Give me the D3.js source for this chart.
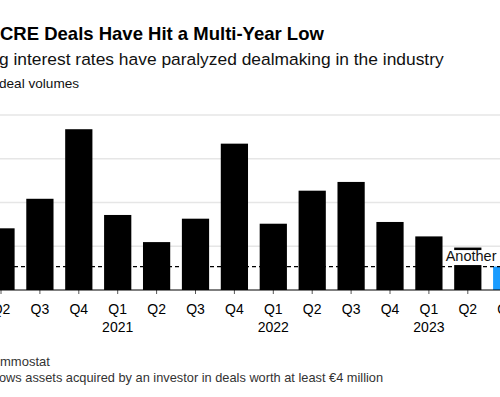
<!DOCTYPE html>
<html>
<head>
<meta charset="utf-8">
<script src="https://cdn.jsdelivr.net/npm/d3@7"></script>
<style>
  body { margin: 0; background: #fff; }
  svg { display: block; font-family: "Liberation Sans", Arial, sans-serif; }
</style>
</head>
<body>
<svg id="chart" width="500" height="397"></svg>
<script>
// ---> Data (quarterly deal volumes, billions of euros)
const quarters = ["Q2", "Q3", "Q4", "Q1", "Q2", "Q3", "Q4", "Q1", "Q2", "Q3", "Q4", "Q1", "Q2", "Q3"];
const years = ["", "", "", "2021", "", "", "", "2022", "", "", "", "2023", "", ""];
const volumes = [2.82, 4.17, 7.35, 3.43, 2.19, 3.26, 6.69, 3.03, 4.54, 4.94, 3.11, 2.45, 1.94, 1.07];
const yTicks = [0, 2, 4, 6, 8];
const latest = 1.07;

const svg = d3.select("#chart");
const keys = quarters.map((q, i) => i);

// bands: slot step ~38.9px, first slot centred at x=1 (chart is cropped on the left)
const step = 38.9;
const x = d3.scaleBand()
    .domain(keys)
    .range([1 - step / 2, 1 - step / 2 + step * keys.length])
    .paddingInner(0.3)
    .paddingOuter(0.15);

const y = d3.scaleLinear().domain([0, 8]).range([290, 115]);

// gridlines
svg.append("g")
    .selectAll("line")
    .data(yTicks.slice(1))
    .enter()
    .append("line")
    .attr("x1", 0)
    .attr("x2", 500)
    .attr("y1", d => y(d))
    .attr("y2", d => y(d))
    .style("stroke", "#e6e6e6")
    .style("stroke-width", 1.5);

// bars
svg.append("g")
    .selectAll("rect")
    .data(volumes)
    .enter()
    .append("rect")
    .attr("x", (d, i) => x(i))
    .attr("width", x.bandwidth())
    .attr("y", d => y(d))
    .attr("height", d => y(0) - y(d))
    .attr("fill", (d, i) => i === volumes.length - 1 ? "#1a9cff" : "#000");

// dashed line at the latest level
svg.append("line")
    .attr("x1", 0)
    .attr("x2", 500)
    .attr("y1", y(latest))
    .attr("y2", y(latest))
    .style("stroke", "#000")
    .style("stroke-width", 1.3)
    .style("stroke-dasharray", "4,3");

// annotation with white box
const ann = svg.append("g").attr("transform", "translate(" + (x(12) - 11) + "," + y(1.94) + ")");
ann.append("rect")
    .attr("x", 0)
    .attr("y", 2.5)
    .attr("width", 80)
    .attr("height", 15)
    .attr("fill", "#fff");
ann.append("text")
    .attr("x", 2.5)
    .attr("y", 13.5)
    .style("font-size", "14.5px")
    .style("fill", "#111")
    .text("Another low");

// x axis
const xAxis = d3.axisBottom(x).tickSize(4).tickFormat((d) => quarters[d]);
const ax = svg.append("g").attr("transform", "translate(0," + y(0) + ")").call(xAxis);
ax.select(".domain").remove();
ax.selectAll(".tick line").style("stroke", "#555");
ax.selectAll(".tick text")
    .attr("y", 11)
    .attr("dy", "0.9em")
    .style("font-size", "14px")
    .style("fill", "#000")
    .style("font-family", "\"Liberation Sans\", Arial, sans-serif");
ax.selectAll(".tick")
    .append("text")
    .attr("y", 42)
    .attr("text-anchor", "middle")
    .style("font-size", "14px")
    .style("fill", "#000")
    .style("font-family", "\"Liberation Sans\", Arial, sans-serif")
    .text(d => years[d]);

svg.append("line")
    .attr("x1", 0)
    .attr("x2", 500)
    .attr("y1", y(0))
    .attr("y2", y(0))
    .style("stroke", "#000")
    .style("stroke-width", 1.2);

// titles
svg.append("text")
    .attr("x", 0)
    .attr("y", 40)
    .style("font-size", "18.5px")
    .style("font-weight", "bold")
    .text("CRE Deals Have Hit a Multi-Year Low");

svg.append("text")
    .attr("x", -1)
    .attr("y", 65)
    .style("font-size", "17.4px")
    .style("fill", "#111")
    .text("g interest rates have paralyzed dealmaking in the industry");

svg.append("text")
    .attr("x", -1)
    .attr("y", 88)
    .style("font-size", "13.6px")
    .style("fill", "#111")
    .text("deal volumes");

// footer
svg.append("text")
    .attr("x", 0)
    .attr("y", 366)
    .style("font-size", "13px")
    .style("fill", "#333")
    .text("mmostat");

svg.append("text")
    .attr("x", -1)
    .attr("y", 381.5)
    .style("font-size", "12.8px")
    .style("fill", "#333")
    .text("ows assets acquired by an investor in deals worth at least €4 million");
</script>
</body>
</html>
